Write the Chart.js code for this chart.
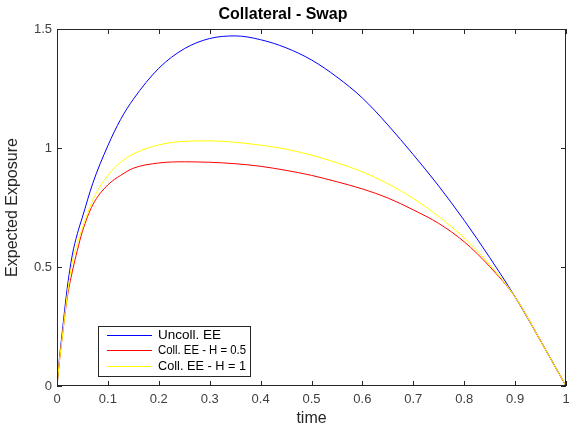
<!DOCTYPE html>
<html>
<head>
<meta charset="utf-8">
<script src="https://cdn.jsdelivr.net/npm/chart.js@4.4.0/dist/chart.umd.min.js"></script>
<style>
  html, body { margin: 0; padding: 0; background: #fff; }
  #wrap { width: 569px; height: 425px; position: relative; }
</style>
</head>
<body>
<div id="wrap"><canvas id="chart"></canvas></div>
<script>
// values
const times = [0, 0.005, 0.01, 0.02, 0.03, 0.04, 0.05, 0.07, 0.1, 0.125, 0.15, 0.2, 0.25, 0.3, 0.35, 0.4, 0.45, 0.5, 0.55, 0.6, 0.65, 0.7, 0.75, 0.8, 0.85, 0.9, 0.95, 1];
const uncollEE = [0, 0.12, 0.22, 0.41, 0.55, 0.64, 0.71, 0.85, 1.01, 1.12, 1.205, 1.335, 1.417, 1.46, 1.471, 1.455, 1.421, 1.37, 1.298, 1.21, 1.097, 0.972, 0.84, 0.696, 0.54, 0.374, 0.19, 0];
const collEEHalf = [0, 0.11, 0.2, 0.37, 0.48, 0.57, 0.65, 0.76, 0.845, 0.885, 0.915, 0.937, 0.942, 0.94, 0.934, 0.923, 0.906, 0.885, 0.858, 0.828, 0.79, 0.74, 0.683, 0.606, 0.502, 0.374, 0.19, 0];
const collEEOne = [0, 0.11, 0.2, 0.38, 0.52, 0.6, 0.665, 0.78, 0.885, 0.94, 0.975, 1.013, 1.028, 1.03, 1.024, 1.012, 0.995, 0.97, 0.938, 0.9, 0.85, 0.788, 0.712, 0.622, 0.51, 0.374, 0.19, 0];
const seriesLabels = ['Uncoll. EE', 'Coll. EE - H = 0.5', 'Coll. EE - H = 1'];
const seriesColors = ['#0000ff', '#ff0000', '#ffff00'];
const xTickValues = [0, 0.1, 0.2, 0.3, 0.4, 0.5, 0.6, 0.7, 0.8, 0.9, 1];
const yTickValues = [0, 0.5, 1, 1.5];

const FONT = "'Liberation Sans', Arial, Helvetica, sans-serif";

function toPoints(values) {
    return times.map((t, i) => ({ x: t, y: values[i] }));
}

// box round the axes with inward tick marks, like matlab
const axesBox = {
    id: 'axesBox',
    afterDatasetsDraw(chart) {
        const { ctx, chartArea: a, scales } = chart;
        const len = 5;
        ctx.save();
        ctx.strokeStyle = '#262626';
        ctx.lineWidth = 1;
        ctx.beginPath();
        xTickValues.forEach(v => {
            const px = Math.round(scales.x.getPixelForValue(v)) + 0.5;
            ctx.moveTo(px, a.bottom);
            ctx.lineTo(px, a.bottom - len);
            ctx.moveTo(px, a.top);
            ctx.lineTo(px, a.top + len);
        });
        yTickValues.forEach(v => {
            const py = Math.round(scales.y.getPixelForValue(v)) + 0.5;
            ctx.moveTo(a.left, py);
            ctx.lineTo(a.left + len, py);
            ctx.moveTo(a.right, py);
            ctx.lineTo(a.right - len, py);
        });
        ctx.stroke();
        ctx.strokeRect(Math.round(a.left) + 0.5, Math.round(a.top) + 0.5,
            Math.round(a.right - a.left) - 1, Math.round(a.bottom - a.top) - 1);
        ctx.restore();
    }
};

// legend box in the lower left of the axes
const boxedLegend = {
    id: 'boxedLegend',
    afterDraw(chart) {
        const { ctx, chartArea: a } = chart;
        const x0 = Math.round(a.left) + 41;
        const y0 = Math.round(a.bottom) - 60;
        const w = 152, h = 50;
        ctx.save();
        ctx.fillStyle = '#fff';
        ctx.fillRect(x0, y0, w, h);
        ctx.strokeStyle = '#262626';
        ctx.lineWidth = 1;
        ctx.strokeRect(x0 + 0.5, y0 + 0.5, w, h);
        ctx.font = '13.5px ' + FONT;
        ctx.textBaseline = 'middle';
        ctx.textAlign = 'left';
        chart.data.datasets.forEach((ds, i) => {
            const y = Math.round(y0 + 8.5 + i * 15.7) + 0.5;
            ctx.strokeStyle = ds.borderColor;
            ctx.beginPath();
            ctx.moveTo(x0 + 9, y);
            ctx.lineTo(x0 + 54, y);
            ctx.stroke();
            ctx.fillStyle = '#000';
            // matlab's helvetica is tighter than arial, squeeze long labels into the box
            ctx.fillText(ds.label, x0 + 60, y, w - 64);
        });
        ctx.restore();
    }
};

const seriesData = [uncollEE, collEEHalf, collEEOne];

new Chart(document.getElementById('chart').getContext('2d'), {
    type: 'line',
    data: {
        datasets: seriesData.map((values, i) => ({
            label: seriesLabels[i],
            data: toPoints(values),
            borderColor: seriesColors[i],
            borderWidth: 1,
            pointRadius: 0,
            fill: false,
            cubicInterpolationMode: 'monotone',
            order: 3 - i
        }))
    },
    options: {
        responsive: true,
        maintainAspectRatio: false,
        animation: false,
        layout: { padding: { left: 0, right: 3, top: 0, bottom: 0 } },
        plugins: {
            legend: { display: false },
            tooltip: { enabled: false },
            title: {
                display: true,
                text: 'Collateral - Swap',
                color: '#000',
                font: { family: FONT, size: 16, weight: 'bold', lineHeight: 1.2 },
                padding: { top: 5, bottom: 4.8 }
            }
        },
        scales: {
            x: {
                type: 'linear',
                min: 0,
                max: 1,
                afterBuildTicks: scale => { scale.ticks = xTickValues.map(v => ({ value: v })); },
                afterFit: scale => { scale.height = 39; scale.paddingRight = 0; },
                grid: { display: false, drawTicks: false },
                border: { display: false },
                ticks: {
                    color: '#404040', padding: 6, maxRotation: 0, autoSkip: false,
                    font: { family: FONT, size: 13 },
                    callback: v => String(v)
                },
                title: {
                    display: true,
                    text: 'time',
                    color: '#262626',
                    font: { family: FONT, size: 16, lineHeight: 0.8 },
                    padding: 0
                }
            },
            y: {
                type: 'linear',
                min: 0,
                max: 1.5,
                afterBuildTicks: scale => { scale.ticks = yTickValues.map(v => ({ value: v })); },
                afterFit: scale => { scale.width = 57; },
                grid: { display: false, drawTicks: false },
                border: { display: false },
                ticks: {
                    color: '#404040', padding: 5, autoSkip: false,
                    font: { family: FONT, size: 13 },
                    callback: v => String(v)
                },
                title: {
                    display: true,
                    text: 'Expected Exposure',
                    color: '#262626',
                    font: { family: FONT, size: 16, lineHeight: 0.8 },
                    padding: { top: 6, bottom: 0 }
                }
            }
        }
    },
    plugins: [axesBox, boxedLegend]
});
</script>
</body>
</html>
